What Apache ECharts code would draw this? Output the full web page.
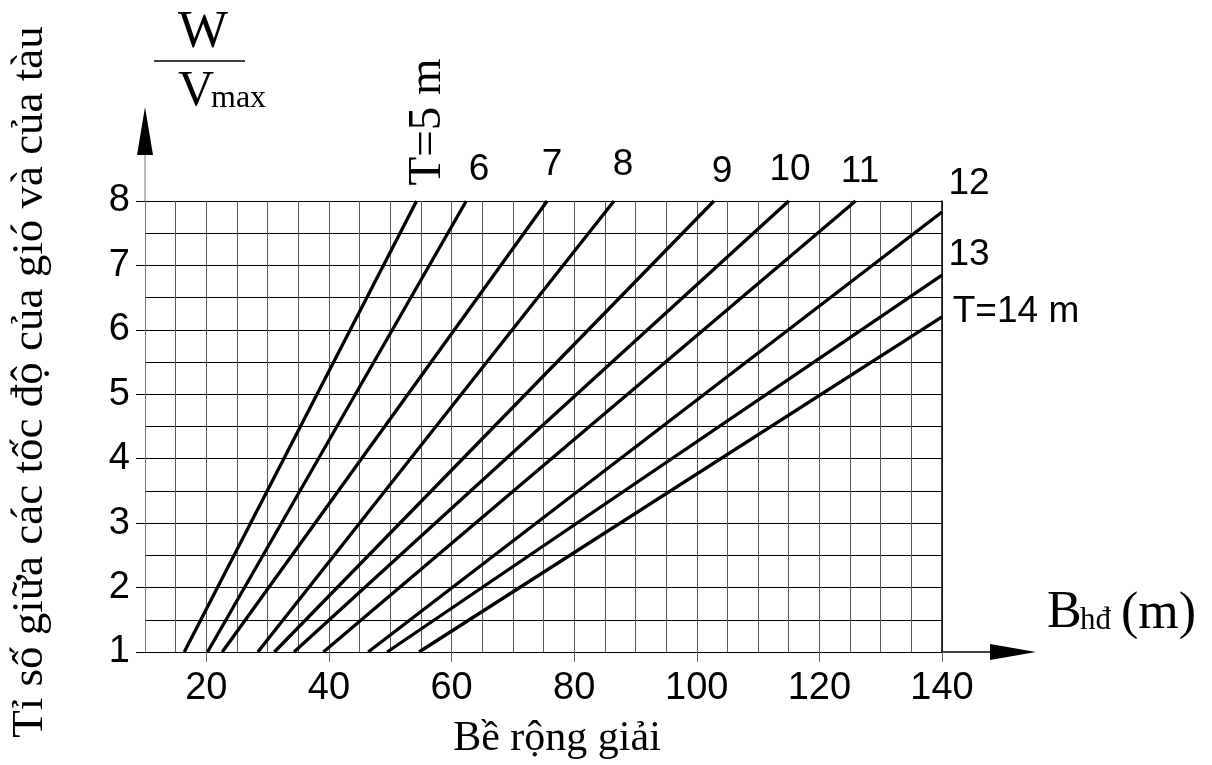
<!DOCTYPE html>
<html>
<head>
<meta charset="utf-8">
<script src="https://cdn.jsdelivr.net/npm/echarts@6/dist/echarts.min.js"></script>
<style>
html,body{margin:0;padding:0;background:#fff;}
#c{width:1212px;height:765px;}
</style>
</head>
<body>
<div id="c"></div>
<script>
// ---- data ----
const depths = ['T=5 m','6','7','8','9','10','11','12','13','T=14 m'];
const startX = [16.4, 20.2, 22.6, 28.4, 31.1, 34.3, 39.1, 46.4, 49.5, 54.7];
const startY = [1, 1, 1, 1, 1, 1, 1, 1, 1, 1];
const endX   = [54.3, 62.4, 75.6, 86.5, 102.8, 115.0, 125.9, 140, 140, 140];
const endY   = [8, 8, 8, 8, 8, 8, 8, 7.83, 6.85, 6.2];
const xTicks = [20, 40, 60, 80, 100, 120, 140];
const yTicks = [1, 2, 3, 4, 5, 6, 7, 8];

const SANS = "'Liberation Sans', Arial, sans-serif";
const SERIF = "'Liberation Serif', 'Times New Roman', serif";

const chart = echarts.init(document.getElementById('c'), null, {renderer:'canvas'});

const series = depths.map((d, i) => ({
  name: d,
  type: 'line',
  xAxisIndex: 0, yAxisIndex: 0,
  data: [[startX[i], startY[i]], [endX[i], endY[i]]],
  showSymbol: false,
  symbol: 'none',
  lineStyle: {color: '#000', width: 3.3},
  silent: true,
  z: 5
}));

chart.setOption({
  animation: false,
  backgroundColor: '#fff',
  grid: {left: 145, right: 270, top: 201, bottom: 113, containLabel: false},
  xAxis: [{
    type: 'value', min: 10, max: 140, interval: 5,
    axisLine: {show: true, lineStyle: {color: '#000', width: 1}},
    axisTick: {show: false},
    axisLabel: {show: true, margin: 18, color: '#000', fontSize: 38, fontFamily: SANS,
      formatter: v => (xTicks.indexOf(v) >= 0 ? String(v) : '')},
    splitLine: {show: true, lineStyle: {color: '#5a5a5a', width: 1}}
  }, {
    type: 'value', min: 10, max: 140, position: 'bottom',
    axisLine: {show: false},
    axisTick: {show: true, customValues: xTicks, length: 10, lineStyle: {color: '#666', width: 1}},
    axisLabel: {show: false, customValues: xTicks},
    splitLine: {show: false}
  }],
  yAxis: [{
    type: 'value', min: 1, max: 8, interval: 0.5,
    axisLine: {show: true, lineStyle: {color: '#777', width: 1}},
    axisTick: {show: false},
    axisLabel: {show: true, margin: 15, color: '#000', fontSize: 38, fontFamily: SANS,
      formatter: v => (yTicks.indexOf(v) >= 0 ? String(v) : '')},
    splitLine: {show: true, lineStyle: {color: '#000', width: 1}}
  }, {
    type: 'value', min: 1, max: 8, position: 'left',
    axisLine: {show: false},
    axisTick: {show: true, customValues: yTicks, length: 9, lineStyle: {color: '#000', width: 1}},
    axisLabel: {show: false, customValues: yTicks},
    splitLine: {show: false}
  }, {
    type: 'value', min: 1, max: 8, interval: 0.5, position: 'right',
    axisLine: {show: true, lineStyle: {color: '#000', width: 1.5}},
    axisTick: {show: false}, axisLabel: {show: false}, splitLine: {show: false}
  }],
  series: series
});

// decorations positioned relative to the axes
const p0 = chart.convertToPixel({gridIndex: 0}, [10, 1]);
const p1 = chart.convertToPixel({gridIndex: 0}, [140, 8]);
const ax = p0[0], ay = p0[1], rx = p1[0], ty = p1[1];

function txt(text, x, y, size, family, align, rot) {
  const el = {
    type: 'text', x: x, y: y,
    style: {text: text, fill: '#000', font: size + 'px ' + family,
            textAlign: align || 'center', textVerticalAlign: 'middle'}
  };
  if (rot) el.rotation = rot;
  return el;
}

const labelPos = [
  [428, 122], [479, 170], [552, 165], [623, 165], [722, 172],
  [790, 170], [860, 172], [969, 184], [969, 255], [1016, 312]
];

const graphics = [
  // y-axis arrow
  {type: 'line', shape: {x1: ax, y1: ty, x2: ax, y2: 150}, style: {stroke: '#777', lineWidth: 1}},
  {type: 'polygon', shape: {points: [[ax, 107], [ax - 8, 155], [ax + 8, 155]]}, style: {fill: '#000'}},
  // x-axis arrow
  {type: 'line', shape: {x1: rx, y1: ay, x2: 995, y2: ay}, style: {stroke: '#000', lineWidth: 1.5}},
  {type: 'polygon', shape: {points: [[1036, ay], [990, ay - 8], [990, ay + 8]]}, style: {fill: '#000'}},
  // W / Vmax
  txt('W', 203, 33, 53, SERIF),
  {type: 'line', shape: {x1: 154, y1: 61, x2: 245, y2: 61}, style: {stroke: '#000', lineWidth: 1.5}},
  txt('V', 178, 92, 50, SERIF, 'left'),
  txt('max', 211, 99, 32, SERIF, 'left'),
  // B_hđ (m)
  txt('B', 1047, 613, 52, SERIF, 'left'),
  txt('hđ', 1080, 621, 31, SERIF, 'left'),
  txt('(m)', 1121, 614, 52, SERIF, 'left'),
  // axis titles
  txt('Bề rộng giải', 557, 739, 42, SERIF),
  txt('Tỉ số giữa các tốc độ của gió và của tàu', 30, 382, 45, SERIF, 'center', Math.PI / 2)
];

depths.forEach((d, i) => {
  if (i === 0) {
    graphics.push(txt(d, labelPos[i][0], labelPos[i][1], 47, SERIF, 'center', Math.PI / 2));
  } else {
    graphics.push(txt(d, labelPos[i][0], labelPos[i][1], 37, SANS));
  }
});

chart.setOption({graphic: graphics});
</script>
</body>
</html>
